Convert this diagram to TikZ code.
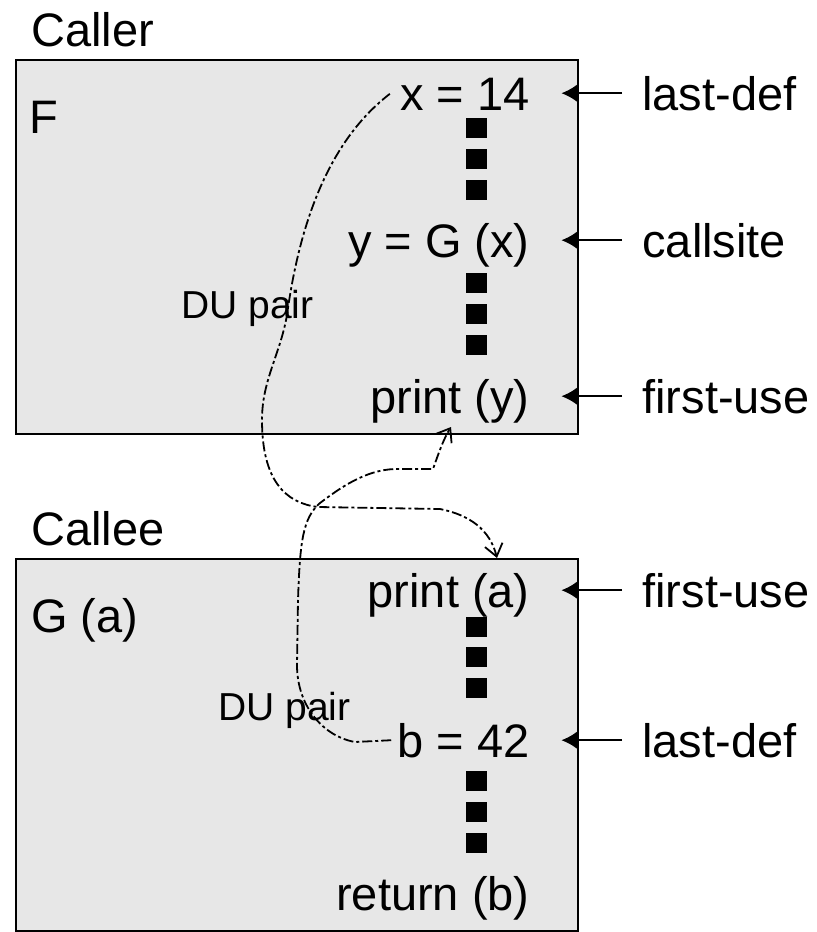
\documentclass[tikz,border=0pt]{standalone}
\usepackage{fontspec}
\setmainfont{Liberation Sans}
\usetikzlibrary{arrows.meta}
\definecolor{boxfill}{RGB}{231,231,231}
\tikzset{
  px/.style={x=0.5pt,y=-0.5pt},
  frame/.style={draw=black, line width=1.2pt, fill=boxfill, anchor=north west, inner sep=0pt},
  code/.style={anchor=base east, inner sep=0pt, font=\fontsize{23.5}{28}\selectfont},
  title/.style={anchor=base west, inner sep=0pt, font=\fontsize{23.5}{28}\selectfont},
  side/.style={anchor=base west, inner sep=0pt, font=\fontsize{23.5}{28}\selectfont},
  dulabel/.style={anchor=base west, inner sep=0pt, font=\fontsize{19.5}{23}\selectfont},
  dotsq/.style={fill=black, inner sep=0pt, minimum width=10.5pt, minimum height=10pt},
  ptr/.style={line width=1pt, -{Latex[length=8pt,width=9pt]}},
  dupath/.style={line width=0.9pt, dash pattern=on 5pt off 1.5pt on 1.5pt off 1.5pt,
                 -{Straight Barb[length=6pt,width=9pt,line width=0.9pt]}}
}
\begin{document}
\begin{tikzpicture}[px]
\useasboundingbox (0,0) rectangle (816,932);

% boxes
\node[frame, minimum width=281pt, minimum height=187pt] (Fbox) at (15,59) {};
\node[frame, minimum width=281pt, minimum height=186pt] (Gbox) at (15,558) {};

% titles
\node[title] (caller) at (31,46) {Caller};
\node[title] (callee) at (31,545) {Callee};
\node[title] (fname) at (29,133) {F};
\node[title] (gname) at (31,632) {G (a)};

% code lines in F
\node[code] (x14) at (530,110) {x = 14};
\node[code] (ygx) at (530,257) {y = G (x)};
\node[code] (prty) at (530,413) {print (y)};
% code lines in G
\node[code] (prta) at (530,607) {print (a)};
\node[code] (b42) at (530,757) {b = 42};
\node[code] (retb) at (530,910) {return (b)};

% vertical dots
\node[dotsq] (d1) at (476,128) {};
\node[dotsq] (d2) at (476,159) {};
\node[dotsq] (d3) at (476,190) {};
\node[dotsq] (d4) at (476,283) {};
\node[dotsq] (d5) at (476,314) {};
\node[dotsq] (d6) at (476,345) {};
\node[dotsq] (d7) at (476,627) {};
\node[dotsq] (d8) at (476,657) {};
\node[dotsq] (d9) at (476,688) {};
\node[dotsq] (d10) at (476,781) {};
\node[dotsq] (d11) at (476,812) {};
\node[dotsq] (d12) at (476,843) {};

% side labels
\node[side] (l1) at (642,110) {last-def};
\node[side] (l2) at (642,257) {callsite};
\node[side] (l3) at (642,413) {first-use};
\node[side] (l4) at (642,607) {first-use};
\node[side] (l5) at (642,757) {last-def};

\foreach \l/\b in {l1/Fbox,l2/Fbox,l3/Fbox,l4/Gbox,l5/Gbox}{
  \draw[ptr] ([xshift=-10pt]\l.west) -- ([xshift=-9pt]\l.west -| \b.east);
}

% DU pair labels
\node[dulabel] (du1) at (181,318) {DU pair};
\node[dulabel] (du2) at (218,720) {DU pair};

% DU pair connectors
\coordinate (c1s) at ([xshift=-5pt]x14.west);
\coordinate (c1e) at (497,558);
\draw[dupath] (c1s) .. controls (330,140) and (300,220) .. (287,315)
  .. controls (280,355) and (262,380) .. (262,420)
  .. controls (262,480) and (285,503) .. (318,507)
  -- (440,509) .. controls (470,515) and (490,530) .. (c1e);

\coordinate (c2s) at ([xshift=-3pt]b42.west);
\coordinate (c2e) at (451,427);
\draw[dupath] (c2s) -- (355,742) .. controls (322,736) and (297,705) .. (297,665)
  -- (298,600) .. controls (300,540) and (303,518) .. (320,503)
  .. controls (340,488) and (365,470) .. (395,469)
  -- (433,469) .. controls (438,455) and (443,440) .. (c2e);
\end{tikzpicture}
\end{document}
